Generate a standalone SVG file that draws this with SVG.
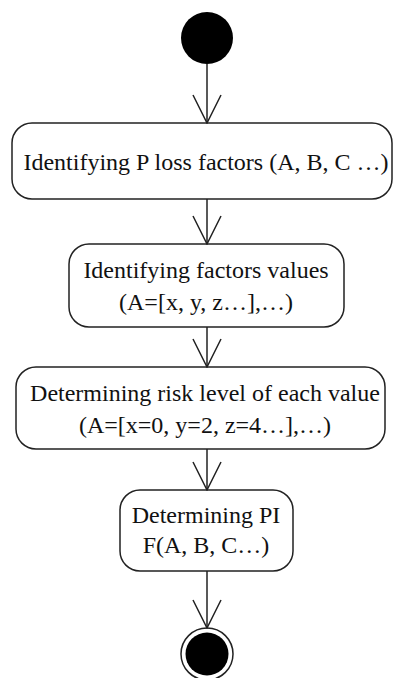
<svg xmlns="http://www.w3.org/2000/svg" width="395" height="678" viewBox="0 0 395 678">
<style>
.box{fill:#fff;stroke:#222;stroke-width:1.5}
.t{font-family:"Liberation Serif","Times New Roman",serif;font-size:24px;fill:#111;text-anchor:middle}
.edge{stroke:#222;stroke-width:1.5;fill:none;marker-end:url(#arr)}
</style>
<defs>
<marker id="arr" markerUnits="userSpaceOnUse" viewBox="0 0 30 30" markerWidth="30" markerHeight="30" refX="29" refY="15" orient="auto">
<path d="M1,1 L29,15 L1,29" fill="none" stroke="#222" stroke-width="1.5"/>
</marker>
</defs>
<rect width="395" height="678" fill="#fff"/>
<g id="start"><circle cx="207" cy="38" r="26" fill="#000"/></g>
<g id="n1">
<rect class="box" x="12" y="123" width="380" height="76" rx="20" ry="20"/>
<text class="t" x="206" y="170">Identifying P loss factors (A, B, C …)</text>
</g>
<g id="n2">
<rect class="box" x="69" y="244" width="275" height="83" rx="20" ry="20"/>
<text class="t" x="206" y="278">Identifying factors values</text>
<text class="t" x="206" y="310">(A=[x, y, z…],…)</text>
</g>
<g id="n3">
<rect class="box" x="16" y="367" width="369" height="82" rx="20" ry="20"/>
<text class="t" x="205" y="401">Determining risk level of each value</text>
<text class="t" x="205" y="433">(A=[x=0, y=2, z=4…],…)</text>
</g>
<g id="n4">
<rect class="box" x="120" y="490" width="173" height="81" rx="20" ry="20"/>
<text class="t" x="206" y="523">Determining PI</text>
<text class="t" x="206" y="553">F(A, B, C…)</text>
</g>
<g id="end">
<circle cx="207" cy="654" r="26" fill="#fff" stroke="#222" stroke-width="1.5"/>
<circle cx="207" cy="654" r="21.5" fill="#000"/>
</g>
<g id="edges">
<line class="edge" x1="207" y1="64" x2="207" y2="123"/>
<line class="edge" x1="207" y1="199" x2="207" y2="244"/>
<line class="edge" x1="207" y1="327" x2="207" y2="367"/>
<line class="edge" x1="207" y1="449" x2="207" y2="490"/>
<line class="edge" x1="207" y1="571" x2="207" y2="628"/>
</g>
</svg>
